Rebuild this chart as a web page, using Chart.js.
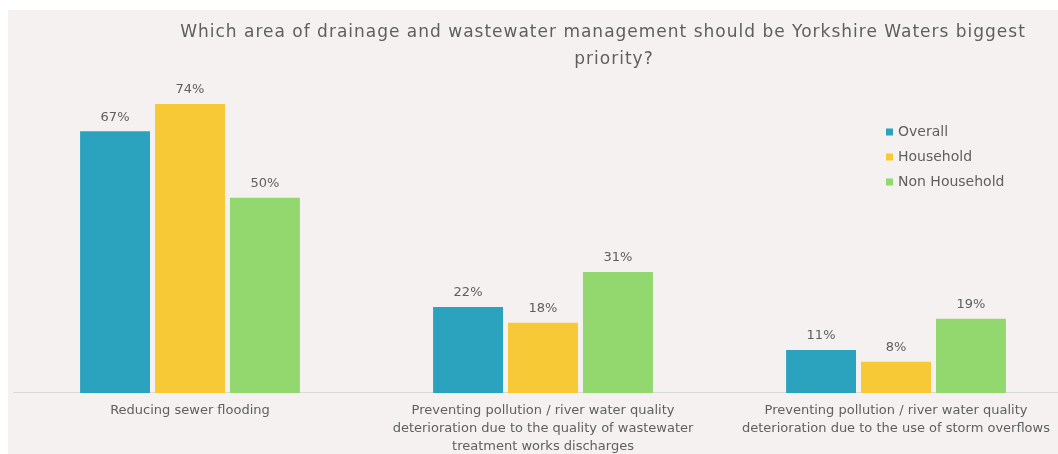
<!DOCTYPE html>
<html>
<head>
<meta charset="utf-8">
<script src="https://cdn.jsdelivr.net/npm/chart.js@4.4.1/dist/chart.umd.min.js"></script>
<style>
  html, body { margin: 0; padding: 0; background: #ffffff; }
  #wrap { position: relative; width: 1058px; height: 454px; overflow: hidden; }
  #canvasBars { position: absolute; left: 0; top: 0; }
</style>
</head>
<body>
<div id="wrap"><canvas id="canvasBars" width="1100" height="480"></canvas></div>
<script>
// chart data
var titleLines = ["Which area of drainage and wastewater management should be Yorkshire Waters biggest", "priority?"];
var categories = [
  ["Reducing sewer flooding"],
  ["Preventing pollution / river water quality", "deterioration due to the quality of wastewater", "treatment works discharges"],
  ["Preventing pollution / river water quality", "deterioration due to the use of storm overflows"]
];
var seriesNames = ["Overall", "Household", "Non Household"];
var overall = [67, 22, 11];
var household = [74, 18, 8];
var nonHousehold = [50, 31, 19];

var colours = ["#2ba3bf", "#f7c937", "#92d86e"];
var textColour = "#5f5f5f";
var fontName = "'DejaVu Sans', sans-serif";

// background panel + title + legend + value labels
var decorate = {
  id: "decorate",
  beforeDraw: function(chart) {
    var ctx = chart.ctx;
    ctx.save();
    ctx.fillStyle = "#f4f1f0";
    ctx.fillRect(8, 10, chart.width, chart.height);
    ctx.restore();
  },
  afterDatasetsDraw: function(chart) {
    var ctx = chart.ctx;
    ctx.save();
    ctx.fillStyle = textColour;
    ctx.textAlign = "center";
    ctx.textBaseline = "middle";

    // title
    ctx.font = "17px " + fontName;
    ctx.letterSpacing = "1px";
    ctx.fillText(titleLines[0], 603, 33);
    ctx.fillText(titleLines[1], 614, 60);
    ctx.letterSpacing = "0px";

    // value labels on top of bars
    ctx.font = "13px " + fontName;
    chart.data.datasets.forEach(function(ds, i) {
      var meta = chart.getDatasetMeta(i);
      meta.data.forEach(function(bar, j) {
        ctx.fillText(ds.data[j] + "%", bar.x, bar.y - 14);
      });
    });

    // legend
    ctx.textAlign = "left";
    ctx.font = "14px " + fontName;
    chart.data.datasets.forEach(function(ds, i) {
      var y = 132 + i * 25;
      ctx.fillStyle = ds.backgroundColor;
      ctx.fillRect(886, y - 3.5, 7, 7);
      ctx.fillStyle = textColour;
      ctx.fillText(ds.label, 898, y);
    });
    ctx.restore();
  }
};

var ctx = document.getElementById("canvasBars").getContext("2d");
var barData = {
  labels: categories,
  datasets: [
    { label: seriesNames[0], data: overall, backgroundColor: colours[0] },
    { label: seriesNames[1], data: household, backgroundColor: colours[1] },
    { label: seriesNames[2], data: nonHousehold, backgroundColor: colours[2] }
  ]
};

window.myBar = new Chart(ctx, {
  type: "bar",
  data: barData,
  plugins: [decorate],
  options: {
    responsive: false,
    animation: false,
    devicePixelRatio: 1,
    categoryPercentage: 0.637,
    barPercentage: 0.933,
    layout: { padding: { left: 13.5, right: 27.5, top: 80.6, bottom: 15 } },
    plugins: {
      legend: { display: false },
      title: { display: false },
      tooltip: { enabled: false }
    },
    scales: {
      x: {
        grid: { display: false, drawTicks: false },
        border: { display: true, color: "#d9d9d9", width: 1 },
        ticks: {
          color: textColour,
          padding: 9,
          maxRotation: 0,
          autoSkip: false,
          font: { family: fontName, size: 13, lineHeight: 1.385 }
        }
      },
      y: {
        display: false,
        min: 0,
        max: 80
      }
    }
  }
});
</script>
</body>
</html>
